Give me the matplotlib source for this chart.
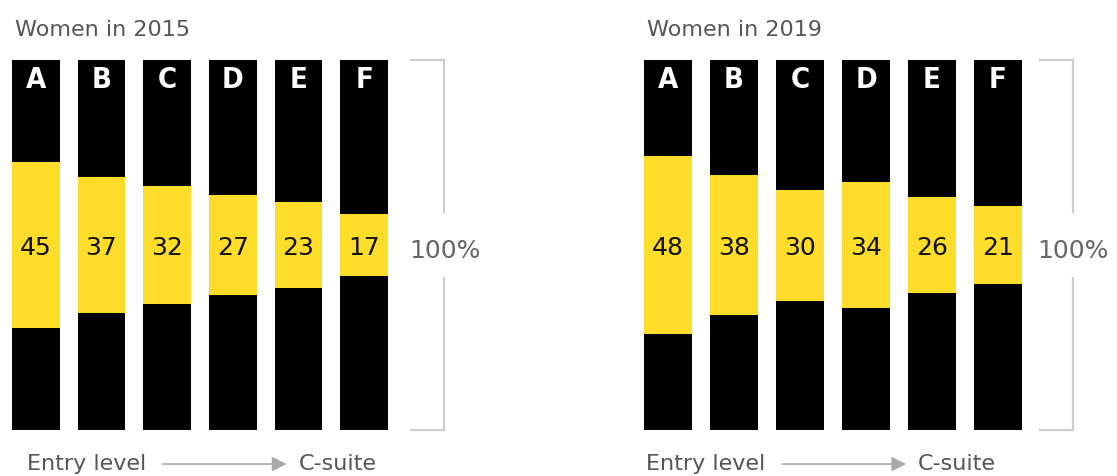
import matplotlib
matplotlib.use('Agg')
from matplotlib import pyplot as plt

levels = ['A', 'B', 'C', 'D', 'E', 'F']
women_2015 = [45, 37, 32, 27, 23, 17]
women_2019 = [48, 38, 30, 34, 26, 21]
titles = ['Women in 2015', 'Women in 2019']

yellow = '#FDDC2A'
grey_text = '#555555'
grey_line = '#cccccc'

W, H = 1117, 476
fig = plt.figure(figsize=(W / 100, H / 100), dpi=100)

# per panel: axes left px, axes width px, entry text x, arrow start/end, c-suite x, bracket x, tick x
panels = [
    dict(left=3, width=394, entry=-0.13, a0=1.93, a1=3.82, csuite=4.0, brx=6.21, tkx=5.72),
    dict(left=635, width=396, entry=-0.34, a0=1.73, a1=3.61, csuite=3.78, brx=6.13, tkx=5.63),
]

for values, title, p in zip([women_2015, women_2019], titles, panels):
    ax = fig.add_axes([p['left'] / W, (H - 430) / H, p['width'] / W, 370 / H])
    x = list(range(len(levels)))
    ax.bar(x, [100] * len(levels), width=0.73, color='black')
    ax.bar(x, values, width=0.73, bottom=[50 - v / 2 for v in values], color=yellow)
    ax.set_xlim(-0.5, 5.5)
    ax.set_ylim(0, 100)
    ax.axis('off')

    for i, (lab, v) in enumerate(zip(levels, values)):
        ax.text(i, 92.4, lab, ha='center', va='baseline', color='white',
                fontsize=21, fontweight='heavy', fontstretch='condensed',
                family=['DejaVu Sans'])
        ax.text(i, 47.3, str(v), ha='center', va='baseline', color='#111111',
                fontsize=18)

    ax.text(-0.32, 106.5, title, ha='left', va='baseline', color=grey_text,
            fontsize=16, clip_on=False)

    # 100% bracket
    ax.plot([p['brx'], p['brx']], [0, 41], color=grey_line, lw=1.5, clip_on=False)
    ax.plot([p['brx'], p['brx']], [59, 100], color=grey_line, lw=1.5, clip_on=False)
    ax.plot([p['tkx'], p['brx']], [100, 100], color=grey_line, lw=1.5, clip_on=False)
    ax.plot([p['tkx'], p['brx']], [0, 0], color=grey_line, lw=1.5, clip_on=False)
    ax.text(p['tkx'] - 0.03, 46.5, '100%', ha='left', va='baseline', color='#666666',
            fontsize=18, clip_on=False)

    # bottom axis note
    ax.text(p['entry'], -10.8, 'Entry level', ha='left', va='baseline', color=grey_text,
            fontsize=16, clip_on=False)
    ax.annotate('', xy=(p['a1'], -9.2), xytext=(p['a0'], -9.2),
                arrowprops=dict(arrowstyle='-|>', color='#aaaaaa', lw=1.2,
                                mutation_scale=22, shrinkA=0, shrinkB=0),
                annotation_clip=False)
    ax.text(p['csuite'], -10.8, 'C-suite', ha='left', va='baseline', color=grey_text,
            fontsize=16, clip_on=False)

fig.savefig('out.png', dpi=100)
